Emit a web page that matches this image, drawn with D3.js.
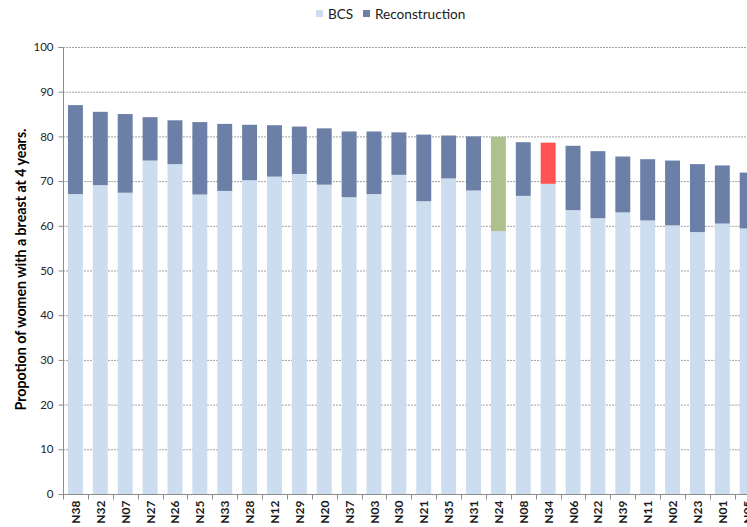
<!DOCTYPE html>
<html><head><meta charset="utf-8">
<script src="https://cdn.jsdelivr.net/npm/d3@7"></script>
<style>body{margin:0;background:#fff;overflow:hidden}svg{display:block;font-family:Lato,"Open Sans",sans-serif}</style>
</head><body>
<script>
const categories = ["N38","N32","N07","N27","N26","N25","N33","N28","N12","N29","N20","N37","N03","N30","N21","N35","N31","N24","N08","N34","N06","N22","N39","N11","N02","N23","N01","N05"];
const bcs = [67.1,69.1,67.4,74.6,73.8,67.0,67.8,70.2,71.0,71.6,69.2,66.4,67.1,71.4,65.5,70.6,67.9,58.8,66.7,69.4,63.5,61.7,63.0,61.2,60.1,58.6,60.5,59.4];
const reconstruction = [19.9,16.4,17.6,9.7,9.8,16.2,15.0,12.4,11.5,10.6,12.6,14.7,14.0,9.5,14.9,9.6,12.1,21.1,12.0,9.2,14.4,15.0,12.5,13.7,14.5,15.2,13.0,12.5];
const highlight = {"N24":"#AEC18C","N34":"#FF5252"};
const yTicks = [0,10,20,30,40,50,60,70,80,90,100];
const seriesNames = ["BCS","Reconstruction"];
const colors = {BCS:"#CCDDF0", Reconstruction:"#6B7FA7"};

(function(){
const W=747,H=527;
const svg=d3.select("body").append("svg").attr("width",W).attr("height",H);
const mLeft=63, mTop=47, mBottom=494, step=24.88;
const x=d3.scaleBand().domain(categories).range([mLeft,mLeft+step*categories.length]).paddingInner(0.4).paddingOuter(0.2);
const y=d3.scaleLinear().domain([0,100]).range([mBottom,mTop]);

// gridlines
svg.append("g").selectAll("line").data(yTicks.filter(d=>d>0)).join("line")
  .attr("x1",mLeft).attr("x2",W).attr("y1",d=>y(d)+0.5).attr("y2",d=>y(d)+0.5)
  .attr("stroke","#A0A0A0").attr("stroke-width",1).attr("stroke-dasharray","2,1");

const data=categories.map((c,i)=>({c,b:bcs[i],r:reconstruction[i]}));
const g=svg.append("g");
g.selectAll(".b").data(data).join("rect").attr("class","b")
  .attr("x",d=>x(d.c)).attr("width",x.bandwidth())
  .attr("y",d=>y(d.b)).attr("height",d=>y(0)-y(d.b)).attr("fill",colors.BCS);
g.selectAll(".r").data(data).join("rect").attr("class","r")
  .attr("x",d=>x(d.c)).attr("width",x.bandwidth())
  .attr("y",d=>y(d.b+d.r)).attr("height",d=>y(d.b)-y(d.b+d.r))
  .attr("fill",d=>highlight[d.c]||colors.Reconstruction);

// y axis
const ya=svg.append("g").attr("transform",`translate(${mLeft+0.5},0)`)
  .call(d3.axisLeft(y).tickValues(yTicks).tickSize(5).tickPadding(5));
ya.select(".domain").attr("stroke","#8C8C8C").attr("d",`M-5,${mTop+0.5}H0V${mBottom+0.5}`);
ya.selectAll(".tick line").attr("stroke","#8C8C8C");
ya.selectAll("text").attr("font-size",11.5).attr("fill","#262626").attr("font-family","Lato,'Open Sans',sans-serif");

// x axis
const xa=svg.append("g").attr("transform",`translate(0,${mBottom+0.5})`);
xa.append("line").attr("x1",mLeft).attr("x2",W).attr("stroke","#8C8C8C");
xa.selectAll(".tk").data(d3.range(categories.length+1)).join("line").attr("class","tk")
  .attr("x1",i=>Math.round(mLeft+i*step)+0.5).attr("x2",i=>Math.round(mLeft+i*step)+0.5)
  .attr("y1",0).attr("y2",5).attr("stroke","#8C8C8C");
xa.selectAll("text").data(categories).join("text")
  .attr("transform",d=>`translate(${x(d)+x.bandwidth()/2+4.5},6) rotate(-90)`)
  .attr("text-anchor","end").attr("font-size",12).attr("font-weight","bold").attr("fill","#1a1a1a")
  .text(d=>d);

// y title
svg.append("text").attr("transform",`translate(26,${(mTop+mBottom)/2-1}) rotate(-90)`)
  .attr("text-anchor","middle").attr("font-size",14.2).attr("font-weight","bold").attr("fill","#000")
  .text("Propotion of women with a breast at 4 years.");

// legend
const lg=svg.append("g").attr("transform","translate(316,9)");
const items=[{n:"BCS",x:0},{n:"Reconstruction",x:47}];
items.forEach(it=>{
  lg.append("rect").attr("x",it.x).attr("y",1).attr("width",7).attr("height",7).attr("fill",colors[it.n]);
  lg.append("text").attr("x",it.x+12).attr("y",10).attr("font-size",13.6).attr("fill","#1a1a1a").text(it.n);
});
})();
</script>
</body></html>
